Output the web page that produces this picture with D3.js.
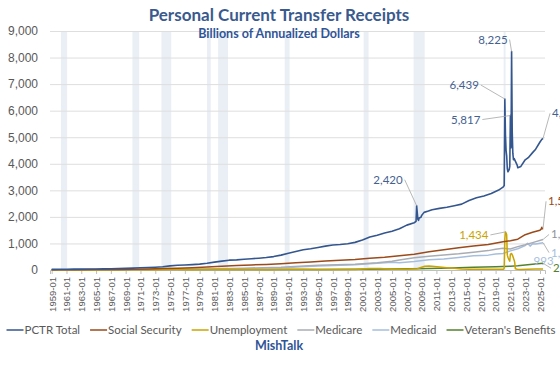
<!DOCTYPE html>
<html>
<head>
<meta charset="utf-8">
<script src="https://cdn.jsdelivr.net/npm/d3@7"></script>
<style>
  body { margin: 0; background: #fff; }
  svg { display: block; font-family: Lato, "Noto Sans", sans-serif; }
</style>
</head>
<body>
<div id="chart"></div>
<script>
// values in billions of annualized dollars, [month, value]
const pctrTotal = [
  ["1959-01",25],["1960-01",27],["1961-01",30],["1962-01",32],["1963-01",34],["1964-01",35],
  ["1965-01",38],["1966-01",41],["1967-01",49],["1968-01",55],["1969-01",61],["1970-01",71],
  ["1971-01",85],["1972-01",95],["1973-01",106],["1974-01",122],["1975-01",155],["1976-01",178],
  ["1977-01",190],["1978-01",203],["1979-01",222],["1980-01",255],["1981-01",295],["1982-01",335],
  ["1983-01",370],["1984-01",380],["1985-01",402],["1986-01",425],["1987-01",445],["1988-01",470],
  ["1989-01",505],["1990-01",560],["1991-01",630],["1992-01",700],["1993-01",760],["1994-01",800],
  ["1995-01",850],["1996-01",900],["1997-01",940],["1998-01",960],["1999-01",990],["2000-01",1040],
  ["2001-01",1130],["2002-01",1240],["2003-01",1310],["2004-01",1390],["2005-01",1460],["2006-01",1550],
  ["2007-01",1690],["2008-01",1780],["2008-04",1830],["2008-05",2420],["2008-06",2150],["2008-07",1900],
  ["2008-08",1870],["2008-09",1960],["2008-12",1990],["2009-01",2050],["2009-05",2170],["2009-12",2220],
  ["2010-06",2270],["2011-06",2320],["2012-06",2360],["2013-06",2420],["2014-06",2480],["2015-06",2620],
  ["2016-06",2720],["2017-06",2790],["2018-06",2880],["2019-06",3010],["2020-01",3120],["2020-03",3180],
  ["2020-04",6439],["2020-05",5100],["2020-06",4500],["2020-07",4300],["2020-08",3820],["2020-09",3700],
  ["2020-11",3780],["2020-12",3900],["2021-01",5817],["2021-02",4600],["2021-03",8225],["2021-04",5200],
  ["2021-05",4400],["2021-06",4150],["2021-07",4200],["2021-09",4100],["2021-12",3950],["2022-01",3850],
  ["2022-06",3900],["2023-01",4150],["2023-06",4230],["2024-01",4420],["2024-06",4550],["2025-01",4820],
  ["2025-04",4920],["2025-06",4960]
];
const socialSecurity = [
  ["1959-01",10],["1962-01",14],["1965-01",17],["1968-01",23],["1970-01",30],["1972-01",38],
  ["1974-01",53],["1976-01",70],["1978-01",86],["1980-01",110],["1982-01",145],["1984-01",170],
  ["1986-01",190],["1988-01",210],["1990-01",240],["1992-01",275],["1994-01",305],["1996-01",340],
  ["1998-01",365],["2000-01",395],["2002-01",445],["2004-01",480],["2006-01",535],["2008-01",590],
  ["2010-01",690],["2012-01",760],["2014-01",840],["2016-01",900],["2018-01",960],["2020-01",1060],
  ["2021-01",1100],["2022-01",1160],["2023-01",1330],["2024-01",1420],["2025-01",1500],["2025-03",1540],
  ["2025-04",1610],["2025-05",1550],["2025-06",1570]
];
const unemployment = [
  ["1959-01",3],["1961-01",5],["1962-01",4],["1965-01",3],["1970-01",5],["1971-01",7],["1973-01",5],
  ["1975-06",18],["1976-01",16],["1978-01",10],["1980-06",16],["1982-06",25],["1984-01",16],["1988-01",14],
  ["1991-06",26],["1993-01",30],["1995-01",21],["2000-01",21],["2002-01",53],["2003-06",54],["2005-01",31],
  ["2007-01",32],["2008-06",45],["2009-06",140],["2010-01",150],["2010-06",140],["2011-06",110],
  ["2012-06",85],["2013-06",65],["2014-06",36],["2015-06",32],["2018-06",28],["2020-02",28],["2020-03",72],
  ["2020-04",1180],["2020-05",1434],["2020-06",1390],["2020-07",1330],["2020-08",560],["2020-09",480],
  ["2020-10",420],["2020-12",330],["2021-01",600],["2021-03",620],["2021-05",520],["2021-07",380],
  ["2021-08",290],["2021-09",50],["2021-12",30],["2022-06",22],["2023-06",27],["2024-06",33],["2025-06",36]
];
const medicare = [
  ["1959-01",0],["1966-06",0],["1966-07",2],["1967-01",4],["1970-01",7],["1975-01",15],["1980-01",34],
  ["1985-01",69],["1990-01",107],["1995-01",178],["2000-01",215],["2003-01",270],["2005-01",330],
  ["2006-01",380],["2008-01",460],["2010-01",515],["2012-01",565],["2014-01",610],["2016-01",670],
  ["2018-01",730],["2019-01",780],["2020-01",820],["2021-01",790],["2022-01",880],["2023-01",950],
  ["2024-01",1030],["2025-06",1150]
];
const medicaid = [
  ["1959-01",0],["1966-06",0],["1966-07",1],["1967-01",2],["1970-01",5],["1975-01",13],["1980-01",24],
  ["1985-01",38],["1990-01",70],["1992-01",115],["1995-01",150],["2000-01",195],["2003-01",255],
  ["2005-01",290],["2006-01",275],["2008-01",320],["2010-01",390],["2012-01",410],["2014-01",470],
  ["2016-01",540],["2018-01",560],["2019-01",600],["2020-01",620],["2021-01",720],["2022-01",800],
  ["2023-01",920],["2023-05",1010],["2023-09",900],["2024-01",993],["2024-06",980],["2025-01",1010],
  ["2025-06",1030]
];
const veterans = [
  ["1959-01",5],["1965-01",6],["1970-01",10],["1975-01",17],["1980-01",15],["1985-01",16],["1990-01",18],
  ["1995-01",21],["2000-01",25],["2005-01",35],["2010-01",55],["2013-01",80],["2016-01",100],
  ["2019-01",120],["2021-01",140],["2022-01",160],["2023-01",190],["2024-01",220],["2025-06",255]
];
const seriesNames = ["PCTR Total","Social Security","Unemployment","Medicare","Medicaid","Veteran's Benefits"];
const seriesColors = ["#34568F","#9B4A1A","#C9A400","#A9ADB3","#A6BEDD","#55812F"];
const recessions = [
  ["1960-04","1961-02"],["1969-12","1970-11"],["1973-11","1975-03"],["1980-01","1980-07"],
  ["1981-07","1982-11"],["1990-07","1991-03"],["2001-03","2001-11"],["2007-12","2009-06"],["2020-02","2020-04"]
];
const yTicks = [0,1000,2000,3000,4000,5000,6000,7000,8000,9000];
const xTickStart = "1959-01", xTickEnd = "2025-01";
// [series index, month, label text, dx, dy]
const callouts = [
  [0,"2021-03","8,225",-4,-12],
  [0,"2020-04","6,439",-26,-14],
  [0,"2021-01","5,817",-30,4],
  [0,"2008-05","2,420",-14,-26],
  [0,"2025-06","4,960",9,-25],
  [2,"2020-05","1,434",-17,3],
  [1,"2025-06","1,570",5,-27],
  [3,"2025-06","1,150",8,-5],
  [4,"2025-06","1,030",8,10],
  [4,"2024-01","993",1,17],
  [5,"2025-06","255",10,5]
];

const W = 560, H = 370;
const parse = d3.timeParse("%Y-%m");
const allSeries = [pctrTotal, socialSecurity, unemployment, medicare, medicaid, veterans]
  .map(s => s.map(p => ({date: parse(p[0]), value: p[1]})));

const svg = d3.select("#chart").append("svg")
  .attr("width", W).attr("height", H);

const x = d3.scaleTime()
  .domain([new Date(1958, 9, 10), new Date(2025, 8, 5)])
  .range([50, 545]);
const y = d3.scaleLinear().domain([0, 9000]).range([270, 31]);

// recession shading
svg.append("g").selectAll("rect")
  .data(recessions)
  .join("rect")
  .attr("x", d => x(parse(d[0])))
  .attr("width", d => Math.max(2, x(parse(d[1])) - x(parse(d[0]))))
  .attr("y", y(9000))
  .attr("height", y(0) - y(9000))
  .attr("fill", "#EAEFF5");

// gridlines + y labels
const yAxis = svg.append("g")
  .attr("transform", "translate(50,0)")
  .call(d3.axisLeft(y).tickValues(yTicks).tickSize(-495).tickPadding(12)
    .tickFormat(d3.format(",")));
yAxis.select(".domain").remove();
yAxis.selectAll(".tick line").attr("stroke", "#DEDEDE");
yAxis.selectAll(".tick text").attr("fill", "#595959").style("font-size", "12px");
yAxis.selectAll(".tick").filter(d => d === 0).select("line").remove();

// x axis, one label every two years
const xTicks = d3.timeMonth.range(parse(xTickStart), d3.timeMonth.offset(parse(xTickEnd), 1), 24);
const xAxis = svg.append("g")
  .attr("transform", "translate(0,270)")
  .call(d3.axisBottom(x).tickValues(xTicks).tickSize(4).tickFormat(d3.timeFormat("%Y-%m")));
xAxis.select(".domain").attr("stroke", "#BFBFBF");
xAxis.selectAll(".tick line").attr("stroke", "#BFBFBF");
xAxis.selectAll(".tick text")
  .attr("fill", "#595959")
  .style("font-size", "9.5px")
  .attr("transform", "rotate(-90)")
  .attr("text-anchor", "end")
  .attr("x", -7).attr("y", 0).attr("dy", "0.35em");

// lines
const line = d3.line().x(d => x(d.date)).y(d => y(d.value));
const drawOrder = [5, 4, 3, 2, 1, 0];
svg.append("g").selectAll("path")
  .data(drawOrder)
  .join("path")
  .attr("d", i => line(allSeries[i]))
  .attr("fill", "none")
  .attr("stroke", i => seriesColors[i])
  .attr("stroke-width", i => i === 0 ? 1.6 : 1.5)
  .attr("stroke-linejoin", "round");

// callouts with leader lines
const cg = svg.append("g").style("font-size", "11.5px");
callouts.forEach(c => {
  const pt = allSeries[c[0]].find(d => +d.date === +parse(c[1]));
  const px = x(pt.date), py = y(pt.value);
  const tx = px + c[3], ty = py + c[4];
  const left = c[3] < 0;
  cg.append("text")
    .attr("x", tx).attr("y", ty)
    .attr("text-anchor", left ? "end" : "start")
    .attr("dy", "0.35em")
    .attr("fill", c[0] === 0 ? "#44618F" : c[0] === 3 ? "#8E9298" : seriesColors[c[0]])
    .text(c[2]);
  if (c[2] === "993") return;
  const lx = left ? tx + 2 : tx - 2;
  cg.append("path")
    .attr("d", `M${lx},${ty}L${px},${py}`)
    .attr("stroke", "#A6A6A6").attr("stroke-width", 0.8).attr("fill", "none");
});

// title
svg.append("text").attr("x", 279).attr("y", 21).attr("text-anchor", "middle")
  .style("font-size", "17px").style("font-weight", "bold").attr("fill", "#3A5A8E")
  .text("Personal Current Transfer Receipts");
svg.append("text").attr("x", 279).attr("y", 38).attr("text-anchor", "middle")
  .style("font-size", "12.5px").style("font-weight", "bold").attr("fill", "#2F5597")
  .text("Billions of Annualized Dollars");

// legend
const lg = svg.append("g").style("font-size", "11.5px");
const items = lg.selectAll("g").data(seriesNames).join("g");
items.append("line").attr("x1", 0).attr("x2", 17).attr("y1", 0).attr("y2", 0)
  .attr("stroke", (d, i) => seriesColors[i]).attr("stroke-width", 1.5);
items.append("text").attr("x", 18).attr("dy", "0.35em").attr("fill", "#595959").text(d => d);
let cx = 0;
items.each(function() {
  d3.select(this).attr("transform", `translate(${cx},330)`);
  cx += this.getBBox().width + 10;
});
const totalW = cx - 10;
lg.attr("transform", `translate(${281 - totalW / 2},0)`);

svg.append("text").attr("x", 279).attr("y", 350).attr("text-anchor", "middle")
  .style("font-size", "12.5px").style("font-weight", "bold").attr("fill", "#2F5597")
  .text("MishTalk");
</script>
</body>
</html>
